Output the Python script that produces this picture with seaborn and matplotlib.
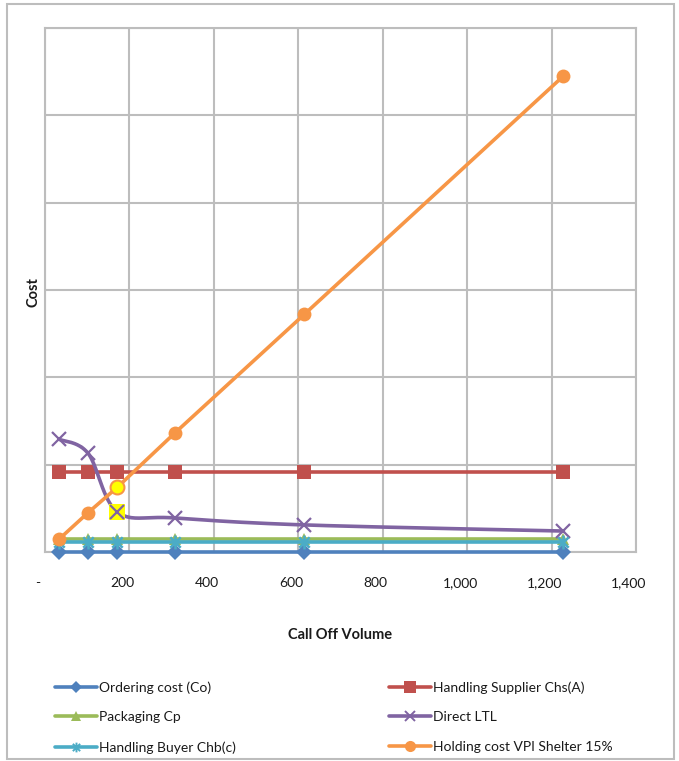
import numpy as np
import pandas as pd
import matplotlib
matplotlib.use("Agg")
import matplotlib.pyplot as plt
import matplotlib.transforms as mtransforms
import seaborn as sns
from matplotlib.path import Path
from matplotlib.lines import Line2D
from matplotlib.patches import Rectangle
from matplotlib.ticker import FuncFormatter

# ---------------- data ----------------
call_off_volume = [34, 102, 171, 307, 614, 1228]
ordering_cost = [0, 0, 0, 0, 0, 0]
handling_supplier = [920, 920, 920, 920, 920, 920]
packaging = [150, 150, 150, 150, 150, 150]
direct_ltl = [1290, 1130, 460, 390, 310, 240]
handling_buyer = [110, 110, 110, 110, 110, 110]
holding_cost = [150, 450, 740, 1360, 2720, 5450]
highlight_index = 2  # highlighted (yellow) point
x_ticks = [0, 200, 400, 600, 800, 1000, 1200, 1400]
y_ticks = [0, 1000, 2000, 3000, 4000, 5000, 6000]
series_names = ["Ordering cost (Co)", "Handling Supplier Chs(A)", "Packaging Cp",
                "Direct LTL", "Handling Buyer Chb(c)", "Holding cost VPI Shelter 15%"]
x_label = "Call Off Volume"
y_label = "Cost"

# ---------------- style ----------------
sns.set_theme(style="white")
plt.rcParams['font.family'] = ['Lato', 'DejaVu Sans']

c_blue, c_red, c_green = "#4F81BD", "#C0504D", "#9BBB59"
c_purple, c_teal, c_orange = "#8064A2", "#4BACC6", "#F79646"
grid_c = "#BDBDBD"
text_c = "#1A1A1A"

star = Path([(0, -1), (0, 1), (-0.75, -0.75), (0.75, 0.75), (-0.75, 0.75), (0.75, -0.75)],
            [Path.MOVETO, Path.LINETO, Path.MOVETO, Path.LINETO, Path.MOVETO, Path.LINETO])

W, H = 679, 761
fig = plt.figure(figsize=(W / 100, H / 100), dpi=100)
ax = fig.add_axes([45 / W, 1 - 552 / H, (636 - 45) / W, (552 - 28) / H])
ax.set_xlim(0, 1400)
ax.set_ylim(0, 6000)
ax.set_xticks(x_ticks)
ax.set_yticks(y_ticks)
ax.xaxis.set_major_formatter(FuncFormatter(lambda v, p: "-" if v == 0 else f"{v:,.0f}"))
ax.set_yticklabels([])
ax.tick_params(axis="both", length=0)
ax.tick_params(axis="x", pad=18, labelsize=10, colors=text_c)
shift = mtransforms.ScaledTranslation(-7 / 100, 0, fig.dpi_scale_trans)
for lab in ax.get_xticklabels():
    lab.set_transform(lab.get_transform() + shift)
ax.grid(True, color=grid_c, lw=1.5)
for s in ax.spines.values():
    s.set_color(grid_c)
    s.set_linewidth(1.5)
ax.set_axisbelow(True)

df = pd.DataFrame({"x": call_off_volume, "co": ordering_cost, "chs": handling_supplier,
                   "cp": packaging, "ltl": direct_ltl, "chb": handling_buyer, "hold": holding_cost})

lw = 2.6
sns.lineplot(data=df, x="x", y="co", ax=ax, color=c_blue, lw=lw, marker="D", ms=8,
             mec=c_blue, mew=0, clip_on=False, zorder=3)
sns.lineplot(data=df, x="x", y="chs", ax=ax, color=c_red, lw=lw, marker="s", ms=9.5,
             mec=c_red, mew=0, zorder=3)
sns.lineplot(data=df, x="x", y="cp", ax=ax, color=c_green, lw=lw, marker="^", ms=9,
             mec=c_green, mew=0, zorder=3)


def excel_smooth(xs, ys, n=40):
    pts = ax.transData.transform(np.column_stack([xs, ys]))
    P = np.vstack([pts[0], pts, pts[-1]])
    out = []
    for i in range(1, len(P) - 2):
        p0, p1, p2, p3 = P[i - 1], P[i], P[i + 1], P[i + 2]
        c1 = p1 + (p2 - p0) / 6
        c2 = p2 - (p3 - p1) / 6
        t = np.linspace(0, 1, n)[:, None]
        seg = (1 - t) ** 3 * p1 + 3 * (1 - t) ** 2 * t * c1 + 3 * (1 - t) * t ** 2 * c2 + t ** 3 * p2
        out.append(seg if i == 1 else seg[1:])
    return ax.transData.inverted().transform(np.vstack(out))


curve = excel_smooth(df["x"].values, df["ltl"].values)
sns.lineplot(x=curve[:, 0], y=curve[:, 1], sort=False, estimator=None, ax=ax,
             color=c_purple, lw=lw, zorder=3)
ax.plot(df["x"], df["ltl"], ls="none", marker="x", ms=10, mew=1.6, color=c_purple, zorder=3)
ax.plot(df["x"][highlight_index], df["ltl"][highlight_index], ls="none", marker="s", ms=11,
        color="#FFFF00", mew=0, zorder=3.5)
ax.plot(df["x"][highlight_index], df["ltl"][highlight_index], ls="none", marker="x", ms=10,
        mew=1.6, color=c_purple, zorder=3.6)

sns.lineplot(data=df, x="x", y="chb", ax=ax, color=c_teal, lw=lw, marker=star, ms=10,
             mec=c_teal, mew=1.8, zorder=3)
sns.lineplot(data=df, x="x", y="hold", ax=ax, color=c_orange, lw=lw, marker="o", ms=10,
             mec=c_orange, mew=0, zorder=3)
ax.plot(df["x"][highlight_index], df["hold"][highlight_index], ls="none", marker="o", ms=10,
        mfc="#FFFF00", mec=c_orange, mew=1.5, zorder=4)

ax.set_xlabel("")
ax.set_ylabel("")
fig.text(340 / W, 1 - 635 / H, x_label, ha="center", va="center", fontsize=10.5,
         fontweight="bold", color=text_c)
fig.text(33 / W, 1 - 292 / H, y_label, ha="center", va="center", rotation=90, fontsize=10.5,
         fontweight="bold", color=text_c)

# legend
def proxy(color, marker, ms, mew=0):
    return Line2D([], [], color=color, lw=lw, marker=marker, ms=ms, mec=color, mew=mew)

handles = [proxy(c_blue, "D", 6), proxy(c_red, "s", 8), proxy(c_green, "^", 7),
           proxy(c_purple, "x", 7, 1.4), proxy(c_teal, star, 7, 1.4), proxy(c_orange, "o", 8)]
leg_kw = dict(loc="upper left", frameon=False, fontsize=10, handlelength=3.0,
              handletextpad=0.15, labelspacing=1.28, borderpad=0, borderaxespad=0,
              labelcolor=text_c)
fig.legend([handles[0], handles[2], handles[4]], [series_names[0], series_names[2], series_names[4]],
           bbox_to_anchor=(55 / W, 1 - 681 / H), **leg_kw)
fig.legend([handles[1], handles[3], handles[5]], [series_names[1], series_names[3], series_names[5]],
           bbox_to_anchor=(389 / W, 1 - 681 / H), **leg_kw)

fig.patches.append(Rectangle((7 / W, 2 / H), (674 - 7) / W, (759 - 4) / H, transform=fig.transFigure,
                             fill=False, ec="#BDBDBD", lw=1.5))

fig.savefig("out.png", dpi=100)
